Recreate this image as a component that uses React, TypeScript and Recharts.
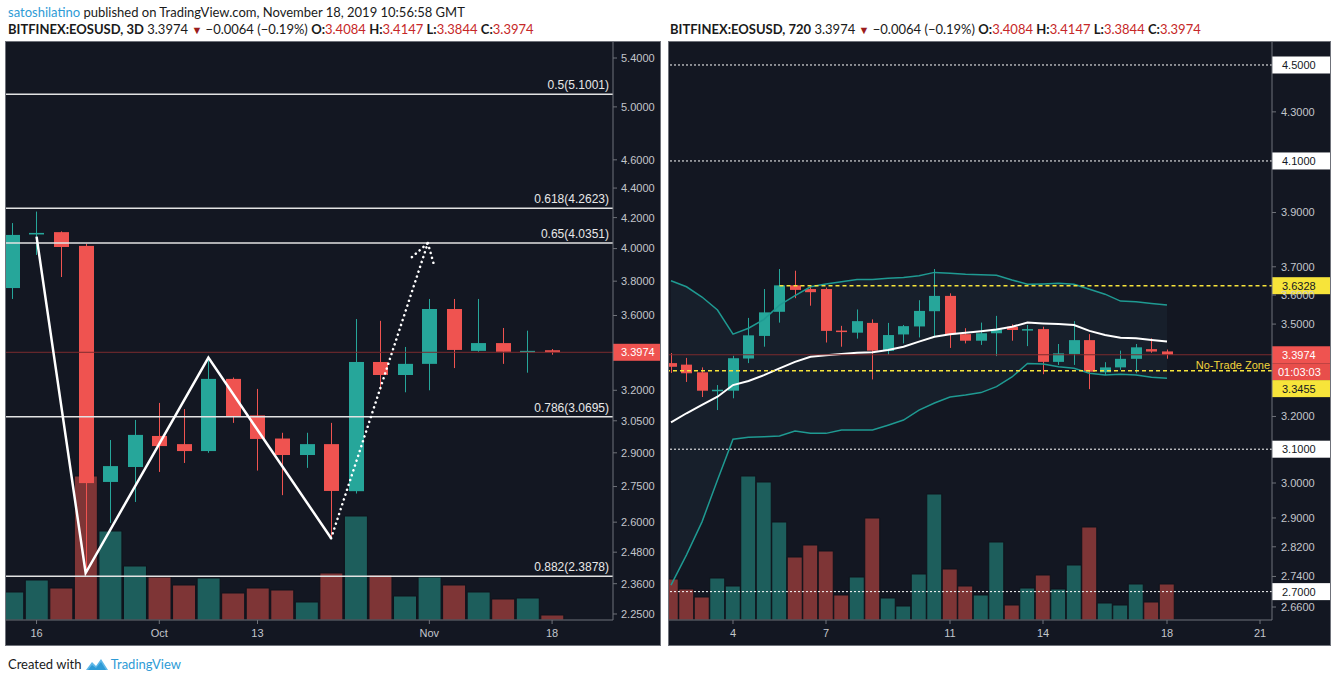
import React from 'react';
import { ComposedChart, Bar, Line, Area, XAxis, YAxis, ReferenceLine, Cell } from 'recharts';

const BG = '#131722';
const UP = '#26a69a';
const DOWN = '#ef5350';
const UP_VOL = '#1d5e5c';
const DOWN_VOL = '#7e3536';
const AXIS_TEXT = '#c3c6cc';
const BORDER = '#6f727a';
const FONT = "'Liberation Sans', Arial, sans-serif";

// ---- left pane: BITFINEX:EOSUSD 3D ----
const dates3d = ['Sep 13', 'Sep 16', 'Sep 19', 'Sep 22', 'Sep 25', 'Sep 28', 'Oct 1', 'Oct 4', 'Oct 7', 'Oct 10', 'Oct 13', 'Oct 16', 'Oct 19', 'Oct 22', 'Oct 25', 'Oct 28', 'Oct 31', 'Nov 3', 'Nov 6', 'Nov 9', 'Nov 12', 'Nov 15', 'Nov 18'];
const open3d = [3.759, 4.09, 4.105, 4.017, 2.77, 2.836, 2.978, 2.94, 2.908, 3.258, 3.076, 2.966, 2.89, 2.94, 2.73, 3.346, 3.278, 3.336, 3.637, 3.405, 3.447, 3.4, 3.4084];
const high3d = [4.164, 4.24, 4.11, 4.03, 2.959, 3.054, 3.137, 3.107, 3.372, 3.265, 3.207, 2.993, 2.993, 3.04, 3.58, 3.57, 3.426, 3.695, 3.695, 3.695, 3.53, 3.515, 3.4147];
const low3d = [3.695, 3.96, 3.825, 2.4, 2.597, 2.684, 2.814, 2.854, 2.9, 3.04, 2.82, 2.713, 2.832, 2.54, 2.72, 3.202, 3.19, 3.2, 3.314, 3.4, 3.336, 3.29, 3.3844];
const close3d = [4.087, 4.1, 4.01, 2.765, 2.84, 2.983, 2.931, 2.908, 3.258, 3.073, 2.964, 2.89, 2.94, 2.731, 3.346, 3.278, 3.336, 3.637, 3.41, 3.447, 3.4, 3.405, 3.3974];
const volume3d = [28, 40, 32, 144, 89, 54, 43, 35, 42, 27, 32, 30, 18, 47, 104, 45, 24, 43, 35, 28, 21, 22, 5];
const ticks3d = [1, 6, 10, 17, 22];
const tickLabels3d = ['16', 'Oct', '13', 'Nov', '18'];
const priceTicks3d = [5.4, 5.0, 4.6, 4.4, 4.2, 4.0, 3.8, 3.6, 3.2, 3.05, 2.9, 2.75, 2.6, 2.48, 2.36, 2.25];
const fibLevels = [0.5, 0.618, 0.65, 0.786, 0.882];
const fibPrices = [5.1001, 4.2623, 4.0351, 3.0695, 2.3878];
const zigzag = [{ i: 1, p: 4.076 }, { i: 3, p: 2.4 }, { i: 8, p: 3.369 }, { i: 13, p: 2.535 }];
const projection = [{ i: 13, p: 2.535 }, { i: 16.94, p: 4.035 }];
const arrowLeft = [{ i: 16.29, p: 3.947 }, { i: 16.94, p: 4.035 }];
const arrowRight = [{ i: 16.94, p: 4.035 }, { i: 17.19, p: 3.898 }];

// ---- right pane: BITFINEX:EOSUSD 720 (12h), Nov 2 - Nov 18 ----
const open12h = [3.37, 3.365, 3.34, 3.28, 3.281, 3.385, 3.46, 3.542, 3.634, 3.621, 3.621, 3.478, 3.471, 3.504, 3.41, 3.465, 3.492, 3.544, 3.597, 3.466, 3.444, 3.469, 3.491, 3.481, 3.483, 3.374, 3.4, 3.446, 3.34, 3.356, 3.384, 3.416, 3.4084];
const high12h = [3.403, 3.387, 3.356, 3.299, 3.394, 3.521, 3.621, 3.692, 3.686, 3.635, 3.626, 3.494, 3.55, 3.516, 3.504, 3.497, 3.582, 3.692, 3.606, 3.486, 3.505, 3.528, 3.499, 3.497, 3.491, 3.433, 3.51, 3.466, 3.373, 3.411, 3.433, 3.452, 3.4147];
const low12h = [3.338, 3.309, 3.261, 3.22, 3.257, 3.37, 3.424, 3.505, 3.589, 3.563, 3.438, 3.424, 3.451, 3.317, 3.397, 3.435, 3.455, 3.46, 3.42, 3.435, 3.43, 3.393, 3.444, 3.426, 3.334, 3.364, 3.364, 3.286, 3.331, 3.348, 3.337, 3.404, 3.3844];
const close12h = [3.358, 3.337, 3.281, 3.284, 3.386, 3.462, 3.54, 3.634, 3.618, 3.61, 3.477, 3.474, 3.51, 3.411, 3.463, 3.493, 3.545, 3.597, 3.466, 3.444, 3.469, 3.482, 3.48, 3.483, 3.374, 3.402, 3.446, 3.342, 3.356, 3.384, 3.422, 3.408, 3.3974];
const volume12h = [41, 31, 23, 42, 34, 144, 138, 98, 63, 75, 69, 25, 43, 102, 22, 14, 46, 126, 51, 34, 25, 78, 15, 32, 45, 31, 55, 93, 17, 15, 36, 18, 36];
const bbUpper = [3.65, 3.629, 3.593, 3.548, 3.466, 3.486, 3.516, 3.565, 3.598, 3.629, 3.639, 3.647, 3.655, 3.655, 3.659, 3.662, 3.668, 3.68, 3.677, 3.673, 3.672, 3.67, 3.653, 3.638, 3.639, 3.641, 3.638, 3.62, 3.603, 3.579, 3.577, 3.571, 3.565];
const bbBasis = [3.182, 3.21, 3.236, 3.262, 3.299, 3.312, 3.331, 3.353, 3.374, 3.391, 3.396, 3.4, 3.404, 3.406, 3.413, 3.424, 3.441, 3.457, 3.466, 3.471, 3.476, 3.482, 3.491, 3.505, 3.502, 3.5, 3.497, 3.477, 3.463, 3.454, 3.452, 3.446, 3.441];
const bbLower = [2.717, 2.798, 2.889, 3.009, 3.13, 3.136, 3.138, 3.14, 3.155, 3.148, 3.148, 3.158, 3.158, 3.158, 3.173, 3.189, 3.22, 3.242, 3.261, 3.267, 3.275, 3.294, 3.325, 3.369, 3.367, 3.358, 3.353, 3.337, 3.331, 3.334, 3.331, 3.324, 3.321];
const ticks12h = [4, 10, 18, 24, 32, 38];
const tickLabels12h = ['4', '7', '11', '14', '18', '21'];
const priceTicks12h = [4.3, 3.9, 3.7, 3.6, 3.5, 3.2, 3.0, 2.9, 2.82, 2.74, 2.66];
const whiteLevels = [4.5, 4.1, 3.1, 2.7];
const resistance = 3.6328;
const support = 3.3455;
const lastPrice = 3.3974;

const rows3d = dates3d.map((d, i) => ({
  i, date: d, o: open3d[i], h: high3d[i], l: low3d[i], c: close3d[i],
  range: [low3d[i], high3d[i]], vol: volume3d[i],
}));
const rows12h = open12h.map((o, i) => ({
  i, o, h: high12h[i], l: low12h[i], c: close12h[i],
  range: [low12h[i], high12h[i]], vol: volume12h[i],
  up: bbUpper[i], mid: bbBasis[i], low: bbLower[i], band: [bbLower[i], bbUpper[i]],
}));

function Candle(props: any) {
  const { x, y, width, height, payload, bodyW } = props;
  if (x == null || !payload || !isFinite(y) || !isFinite(height)) return null;
  const { o, h, l, c } = payload;
  const yHi = Math.min(y, y + height);
  const yLo = Math.max(y, y + height);
  const span = Math.log(h) - Math.log(l);
  const py = (p: number) => yHi + (span > 0 ? ((yLo - yHi) * (Math.log(h) - Math.log(p))) / span : 0);
  const cx = Math.round(x + (width || 0) / 2) + 0.5;
  const color = c >= o ? UP : DOWN;
  const top = py(Math.max(o, c));
  const bot = py(Math.min(o, c));
  return (
    <g>
      <line x1={cx} x2={cx} y1={yHi} y2={yLo} stroke={color} strokeWidth={1} />
      <rect x={cx - bodyW / 2} y={top} width={bodyW} height={Math.max(1.5, bot - top)} fill={color} />
    </g>
  );
}

const fibLabel = (text: string) => (props: any) => {
  const vb = props.viewBox;
  return (
    <text x={vb.x + vb.width - 4} y={vb.y - 5} textAnchor="end" fill="#e8e8e8" fontSize={12} fontFamily={FONT}>
      {text}
    </text>
  );
};

const axisTag = (text: string, bg: string, fg: string, w: number, dy = 0) => (props: any) => {
  const vb = props.viewBox;
  const x0 = vb.x + vb.width;
  const yc = vb.y + dy;
  return (
    <g>
      <rect x={x0} y={yc - 8.5} width={w} height={17} fill={bg} />
      <text x={x0 + (w === 47 ? 8 : 10)} y={yc + 4} fill={fg} fontSize={11} fontFamily={FONT}>{text}</text>
    </g>
  );
};

const lastTag = (props: any) => {
  const vb = props.viewBox;
  const x0 = vb.x + vb.width;
  return (
    <g>
      <rect x={x0} y={vb.y - 8.5} width={58} height={17} fill={DOWN} />
      <text x={x0 + 10} y={vb.y + 4} fill="#fff" fontSize={11} fontFamily={FONT}>3.3974</text>
      <rect x={x0} y={vb.y + 8.5} width={58} height={17} fill="#e84e4b" />
      <text x={x0 + 6} y={vb.y + 21} fill="#fff" fontSize={11} fontFamily={FONT}>01:03:03</text>
      <text x={vb.x + vb.width - 2} y={vb.y + 14} textAnchor="end" fill="#f2d53c" fontSize={11} fontFamily={FONT}>No-Trade Zone</text>
    </g>
  );
};

const tickStyle = { fill: AXIS_TEXT, fontSize: 11, fontFamily: FONT };

function LeftPane() {
  return (
    <ComposedChart width={654} height={603} data={rows3d} margin={{ top: 0, right: 0, bottom: 0, left: 0 }} style={{ background: BG }}>
      <XAxis xAxisId="t" dataKey="i" type="number" domain={[-0.2444, 24.481]} allowDataOverflow ticks={ticks3d} interval={0}
        tickFormatter={(v) => tickLabels3d[ticks3d.indexOf(v)] ?? ''} height={25} tick={tickStyle}
        tickSize={4} tickMargin={5} axisLine={{ stroke: BORDER }} tickLine={{ stroke: BORDER }} />
      <XAxis xAxisId="tv" dataKey="i" type="number" domain={[-0.2444, 24.481]} allowDataOverflow hide />
      <YAxis yAxisId="p" orientation="right" scale="log" type="number" domain={[2.2288, 5.5378]} allowDataOverflow
        ticks={priceTicks3d} interval={0} width={47} tick={tickStyle} tickSize={4} tickMargin={4}
        tickFormatter={(v) => Number(v).toFixed(4)} axisLine={{ stroke: BORDER }} tickLine={{ stroke: BORDER }} />
      <YAxis yAxisId="v" hide domain={[0, 578]} />
      <Bar xAxisId="tv" yAxisId="v" dataKey="vol" barSize={23} isAnimationActive={false} stroke="#0f131b" strokeWidth={1}>
        {rows3d.map((r) => <Cell key={r.i} fill={r.c >= r.o ? UP_VOL : DOWN_VOL} />)}
      </Bar>
      {fibPrices.map((p, k) => (
        <ReferenceLine key={p} xAxisId="t" yAxisId="p" y={p} stroke="#e3e3e3" strokeWidth={1.5}
          label={fibLabel(`${fibLevels[k]}(${p.toFixed(4)})`)} />
      ))}
      <ReferenceLine xAxisId="t" yAxisId="p" y={lastPrice} stroke="#7b2b2e" strokeWidth={1}
        label={axisTag('3.3974', DOWN, '#fff', 47)} />
      <Bar xAxisId="t" yAxisId="p" dataKey="range" barSize={15} shape={<Candle bodyW={15} />} isAnimationActive={false} />
      <Line xAxisId="t" yAxisId="p" data={zigzag} dataKey="p" stroke="#ffffff" strokeWidth={2.5} dot={false} isAnimationActive={false} />
      {[projection, arrowLeft, arrowRight].map((seg, k) => (
        <Line key={k} xAxisId="t" yAxisId="p" data={seg} dataKey="p" stroke="#ffffff" strokeWidth={2.5}
          strokeDasharray="0.1 5" strokeLinecap="round" dot={false} isAnimationActive={false} />
      ))}
    </ComposedChart>
  );
}

function RightPane() {
  return (
    <ComposedChart width={661} height={603} data={rows12h} margin={{ top: 0, right: 0, bottom: 0, left: 0 }} style={{ background: BG }}>
      <XAxis xAxisId="t" dataKey="i" type="number" domain={[-0.129, 38.774]} allowDataOverflow ticks={ticks12h} interval={0}
        tickFormatter={(v) => tickLabels12h[ticks12h.indexOf(v)] ?? ''} height={25} tick={tickStyle}
        tickSize={4} tickMargin={5} axisLine={{ stroke: BORDER }} tickLine={{ stroke: BORDER }} />
      <XAxis xAxisId="tv" dataKey="i" type="number" domain={[-0.129, 38.774]} allowDataOverflow hide />
      <YAxis yAxisId="p" orientation="right" scale="log" type="number" domain={[2.6267, 4.6015]} allowDataOverflow
        ticks={priceTicks12h} interval={0} width={58} tick={tickStyle} tickSize={4} tickMargin={5}
        tickFormatter={(v) => Number(v).toFixed(4)} axisLine={{ stroke: BORDER }} tickLine={{ stroke: BORDER }} />
      <YAxis yAxisId="v" hide domain={[0, 578]} />
      <Bar xAxisId="tv" yAxisId="v" dataKey="vol" barSize={15} isAnimationActive={false} stroke="#0f131b" strokeWidth={1}>
        {rows12h.map((r) => <Cell key={r.i} fill={r.c >= r.o ? UP_VOL : DOWN_VOL} />)}
      </Bar>
      <Area xAxisId="t" yAxisId="p" dataKey="band" stroke="none" fill="#5b8cb0" fillOpacity={0.07} isAnimationActive={false} />
      <Line xAxisId="t" yAxisId="p" dataKey="up" stroke="#1f9a92" strokeWidth={1.5} dot={false} isAnimationActive={false} />
      <Line xAxisId="t" yAxisId="p" dataKey="low" stroke="#1f9a92" strokeWidth={1.5} dot={false} isAnimationActive={false} />
      <Line xAxisId="t" yAxisId="p" dataKey="mid" stroke="#ffffff" strokeWidth={2} dot={false} isAnimationActive={false} />
      {whiteLevels.map((p) => (
        <ReferenceLine key={p} xAxisId="t" yAxisId="p" y={p} stroke="#ffffff" strokeWidth={1} strokeDasharray="2 2"
          label={axisTag(p.toFixed(4), '#ffffff', '#131722', 58)} />
      ))}
      <ReferenceLine xAxisId="t" yAxisId="p" y={lastPrice} stroke="#7b2b2e" strokeWidth={1} label={lastTag} />
      <ReferenceLine xAxisId="t" yAxisId="p" segment={[{ x: 7, y: resistance }, { x: 38.774, y: resistance }]}
        stroke="#f7e43a" strokeWidth={1.5} strokeDasharray="4 3" label={axisTag('3.6328', '#f7e43a', '#131722', 58)} />
      <ReferenceLine xAxisId="t" yAxisId="p" y={support} stroke="#f7e43a" strokeWidth={1.5} strokeDasharray="4 3"
        label={axisTag('3.3455', '#f7e43a', '#131722', 58, 18)} />
      <Bar xAxisId="t" yAxisId="p" dataKey="range" barSize={11} shape={<Candle bodyW={11} />} isAnimationActive={false} />
    </ComposedChart>
  );
}

const red = { color: '#c62828' };

function Header({ interval }: { interval: string }) {
  return (
    <span>
      <b>BITFINEX:EOSUSD, {interval}</b> 3.3974 <span style={{ color: '#9b1c1c', fontSize: 11 }}>▼</span> −0.0064 (−0.19%){' '}
      <b>O:</b><span style={red}>3.4084</span> <b>H:</b><span style={red}>3.4147</span>{' '}
      <b>L:</b><span style={red}>3.3844</span> <b>C:</b><span style={red}>3.3974</span>
    </span>
  );
}

export default function App() {
  const text: React.CSSProperties = {
    position: 'absolute', fontFamily: "Lato, 'Open Sans', sans-serif",
    fontSize: 13, color: '#1a1a1a', whiteSpace: 'nowrap', lineHeight: '16px',
  };
  const pane: React.CSSProperties = {
    position: 'absolute', top: 41, height: 605, border: `1px solid ${BORDER}`, boxSizing: 'border-box', background: BG,
  };
  return (
    <div style={{ position: 'absolute', left: 0, top: 0, width: 1335, height: 682, background: '#fff' }}>
      <div style={{ ...text, left: 8, top: 4 }}>
        <span style={{ color: '#2e9bd6' }}>satoshilatino</span> published on TradingView.com, November 18, 2019 10:56:58 GMT
      </div>
      <div style={{ ...text, left: 8, top: 21 }}><Header interval="3D" /></div>
      <div style={{ ...text, left: 670, top: 21 }}><Header interval="720" /></div>
      <div style={{ ...pane, left: 5, width: 656 }}><LeftPane /></div>
      <div style={{ ...pane, left: 668, width: 663 }}><RightPane /></div>
      <div style={{ ...text, left: 8, top: 656, display: 'flex', alignItems: 'center' }}>
        Created with&nbsp;
        <svg width={24} height={14} viewBox="0 0 24 14">
          <path d="M1 13 L7 5 L11 9 L16 2 L23 13 Z" fill="#5fb8e8" />
          <path d="M3 13 L7 8 L11 11 L16 5 L21 13 Z" fill="#2e9bd6" />
        </svg>
        <span style={{ color: '#2e9bd6', marginLeft: 2 }}>TradingView</span>
      </div>
    </div>
  );
}
